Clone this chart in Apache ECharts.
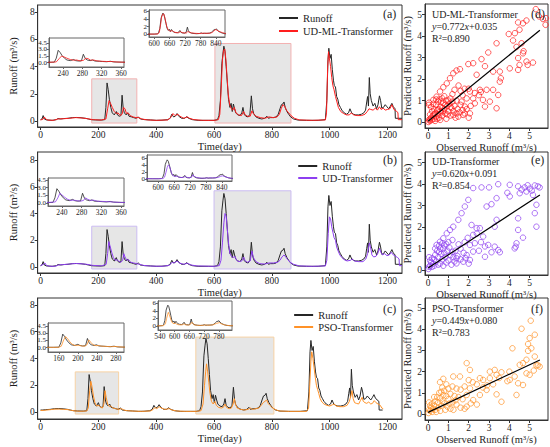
<!DOCTYPE html>
<html><head><meta charset="utf-8">
<script src="https://cdn.jsdelivr.net/npm/echarts@6/dist/echarts.min.js"></script>
<style>html,body{margin:0;padding:0;background:#fff}#c{width:550px;height:447px}</style>
</head><body><div id="c"></div>
<script>
// ---------- tick labels ----------
const dayTicks=[0,200,400,600,800,1000,1200];
const runoffTicks=[0,2,4,6,8];
const insetYTicksL=[0,1.5,3,4.5];
const insetYTicksR=[0,2,4,6];
const insetXTicksAL=[240,280,320,360];
const insetXTicksAR=[600,660,720,780,840];
const insetXTicksCL=[160,200,240,280];
const insetXTicksCR=[540,600,660,720,780];
const scatTicks=[0,1,2,3,4,5];

// ---------- series values (day, runoff) ----------
const obsAB=[[0,0.1],[5,0.15],[9,0.4],[13,0.15],[20,0.08],[40,0.05],[55,0.1],[60,0.18],[70,0.15],[80,0.18],[95,0.2],[110,0.25],[125,0.26],[140,0.24],[155,0.2],[165,0.15],[175,0.1],[190,0.08],[210,0.07],[222,0.1],[226,1.0],[230,2.8],[234,2.3],[238,1.6],[243,1.0],[248,0.6],[255,0.45],[262,0.7],[266,0.45],[272,0.35],[278,0.4],[282,1.9],[286,0.9],[290,0.6],[296,0.45],[301,0.6],[306,0.35],[315,0.3],[322,0.25],[330,0.2],[338,0.3],[345,0.15],[360,0.1],[380,0.08],[400,0.05],[420,0.06],[440,0.1],[448,0.2],[454,0.5],[460,0.3],[466,0.35],[472,0.55],[478,0.35],[488,0.2],[498,0.2],[505,0.32],[512,0.2],[525,0.1],[545,0.05],[580,0.05],[600,0.05],[612,0.1],[617,0.4],[622,1.5],[627,4.2],[631,5.0],[634,5.5],[638,5.1],[642,4.0],[646,2.8],[650,1.6],[655,1.0],[659,1.3],[663,0.7],[667,1.25],[671,0.9],[675,0.6],[682,0.45],[690,0.4],[696,0.6],[700,1.0],[704,0.5],[710,0.35],[718,0.3],[724,0.5],[729,1.85],[733,0.9],[737,0.55],[745,0.3],[755,0.2],[765,0.15],[775,0.2],[783,0.35],[788,0.2],[795,0.25],[805,0.25],[815,0.3],[822,0.5],[828,0.9],[833,1.2],[838,1.25],[842,1.4],[846,1.0],[852,0.7],[858,0.5],[865,0.3],[875,0.15],[890,0.07],[920,0.05],[960,0.05],[985,0.1],[990,1.5],[994,4.5],[997,5.35],[1001,4.6],[1005,4.9],[1009,3.8],[1013,3.0],[1016,2.6],[1020,2.5],[1024,1.8],[1028,1.6],[1032,1.2],[1037,1.0],[1042,0.8],[1050,0.6],[1058,0.5],[1065,0.6],[1070,0.9],[1076,0.6],[1082,0.5],[1090,0.45],[1100,0.45],[1110,0.5],[1118,0.6],[1124,0.8],[1128,1.4],[1131,1.8],[1134,1.1],[1137,3.2],[1140,2.0],[1144,1.5],[1150,1.1],[1156,1.3],[1162,0.9],[1167,1.2],[1172,1.85],[1176,1.5],[1180,0.95],[1186,1.0],[1192,1.2],[1198,1.05],[1204,0.9],[1210,1.1],[1215,1.3],[1220,1.05],[1226,0.9],[1227,0.2],[1250,0.2]];
const predUDML=[[0,0.08],[8,0.12],[13,0.3],[18,0.15],[25,0.07],[45,0.05],[60,0.15],[80,0.17],[100,0.2],[120,0.25],[140,0.23],[160,0.18],[180,0.1],[210,0.07],[226,0.15],[232,0.9],[237,1.5],[242,1.3],[248,1.0],[255,0.7],[262,0.55],[268,0.6],[275,0.4],[282,0.5],[287,1.0],[292,0.9],[297,0.55],[303,0.6],[310,0.4],[320,0.3],[330,0.25],[340,0.25],[350,0.15],[370,0.08],[400,0.05],[440,0.08],[450,0.25],[458,0.55],[465,0.4],[475,0.5],[482,0.35],[495,0.2],[508,0.3],[515,0.2],[530,0.1],[560,0.05],[600,0.05],[615,0.1],[620,0.5],[625,2.5],[629,4.5],[633,5.2],[637,5.3],[641,4.5],[645,3.2],[649,2.0],[654,1.2],[660,0.9],[665,0.8],[670,1.0],[676,0.6],[685,0.45],[695,0.4],[702,0.7],[708,0.45],[716,0.35],[725,0.35],[731,0.75],[737,0.5],[745,0.35],[760,0.25],[775,0.2],[790,0.3],[805,0.25],[818,0.3],[826,0.5],[832,0.9],[838,1.2],[844,1.1],[850,0.8],[858,0.6],[866,0.4],[878,0.2],[895,0.08],[940,0.05],[985,0.08],[989,0.6],[993,4.0],[996,5.1],[999,4.6],[1003,4.0],[1007,3.2],[1011,2.6],[1015,2.3],[1020,1.8],[1025,1.4],[1030,1.0],[1038,0.7],[1048,0.55],[1058,0.45],[1068,0.45],[1075,0.6],[1082,0.45],[1095,0.4],[1110,0.4],[1122,0.5],[1130,0.7],[1136,0.9],[1142,0.85],[1150,0.8],[1158,0.95],[1165,0.8],[1172,1.05],[1178,0.85],[1185,0.95],[1192,0.8],[1200,0.85],[1208,0.9],[1215,1.2],[1222,0.85],[1230,0.75],[1236,0.6],[1237,0.1],[1250,0.1]];
const predUD=[[0,0.1],[10,0.2],[15,0.3],[20,0.12],[30,0.06],[50,0.05],[62,0.15],[80,0.18],[100,0.22],[120,0.26],[140,0.24],[160,0.2],[180,0.12],[210,0.08],[227,0.2],[232,1.0],[236,1.9],[240,1.6],[246,1.1],[252,0.7],[258,0.5],[264,0.55],[270,0.45],[278,0.35],[284,0.5],[288,1.0],[292,0.75],[298,0.5],[304,0.55],[312,0.35],[322,0.3],[332,0.25],[342,0.2],[355,0.12],[380,0.07],[420,0.05],[445,0.12],[455,0.35],[462,0.3],[472,0.45],[480,0.3],[495,0.2],[508,0.28],[520,0.15],[540,0.08],[600,0.05],[618,0.1],[624,0.5],[629,1.8],[634,3.3],[638,4.0],[642,3.8],[646,2.8],[650,1.8],[655,1.0],[660,0.8],[666,0.7],[672,0.8],[678,0.5],[686,0.4],[696,0.45],[702,0.75],[708,0.45],[716,0.35],[725,0.45],[731,1.2],[736,0.7],[745,0.4],[758,0.25],[775,0.22],[790,0.3],[805,0.3],[820,0.35],[828,0.5],[835,0.75],[842,0.9],[848,0.75],[855,0.55],[863,0.35],[875,0.2],[895,0.08],[940,0.05],[985,0.08],[990,0.5],[995,2.5],[999,3.75],[1003,3.6],[1007,3.0],[1011,2.6],[1015,2.2],[1020,2.0],[1024,1.5],[1029,1.2],[1035,0.9],[1042,0.7],[1050,0.55],[1060,0.45],[1072,0.5],[1078,0.6],[1085,0.45],[1100,0.4],[1115,0.4],[1125,0.6],[1131,1.0],[1137,1.8],[1141,1.5],[1146,0.9],[1152,0.75],[1160,0.8],[1166,1.0],[1172,1.4],[1177,1.1],[1183,0.9],[1190,1.0],[1198,0.85],[1206,0.9],[1213,1.1],[1220,0.9],[1228,0.8],[1235,0.7],[1240,0.6],[1241,0.1],[1250,0.1]];
const obsC=[[0,0.15],[8,0.15],[18,0.18],[33,0.2],[48,0.25],[63,0.26],[78,0.24],[93,0.2],[103,0.15],[113,0.1],[128,0.08],[148,0.07],[160,0.1],[164,1.0],[168,2.8],[172,2.3],[176,1.6],[181,1.0],[186,0.6],[193,0.45],[200,0.7],[204,0.45],[210,0.35],[216,0.4],[220,1.9],[224,0.9],[228,0.6],[234,0.45],[239,0.6],[244,0.35],[253,0.3],[260,0.25],[268,0.2],[276,0.3],[283,0.15],[298,0.1],[318,0.08],[338,0.05],[358,0.06],[378,0.1],[386,0.2],[392,0.5],[398,0.3],[404,0.35],[410,0.55],[416,0.35],[426,0.2],[436,0.2],[443,0.32],[450,0.2],[463,0.1],[483,0.05],[518,0.05],[538,0.05],[550,0.1],[555,0.4],[560,1.5],[565,4.2],[569,5.0],[572,5.5],[576,5.1],[580,4.0],[584,2.8],[588,1.6],[593,1.0],[597,1.3],[601,0.7],[605,1.25],[609,0.9],[613,0.6],[620,0.45],[628,0.4],[634,0.6],[638,1.0],[642,0.5],[648,0.35],[656,0.3],[662,0.5],[667,1.85],[671,0.9],[675,0.55],[683,0.3],[693,0.2],[703,0.15],[713,0.2],[721,0.35],[726,0.2],[733,0.25],[743,0.25],[753,0.3],[760,0.5],[766,0.9],[771,1.2],[776,1.25],[780,1.4],[784,1.0],[790,0.7],[796,0.5],[803,0.3],[813,0.15],[828,0.07],[858,0.05],[898,0.05],[923,0.1],[928,1.5],[932,4.5],[935,5.35],[939,4.6],[943,4.9],[947,3.8],[951,3.0],[954,2.6],[958,2.5],[962,1.8],[966,1.6],[970,1.2],[975,1.0],[980,0.8],[988,0.6],[996,0.5],[1003,0.6],[1008,0.9],[1014,0.6],[1020,0.5],[1028,0.45],[1038,0.45],[1048,0.5],[1056,0.6],[1062,0.8],[1066,1.4],[1069,1.8],[1072,1.1],[1075,3.2],[1078,2.0],[1082,1.5],[1088,1.1],[1094,1.3],[1100,0.9],[1105,1.2],[1110,1.85],[1114,1.5],[1118,0.95],[1124,1.0],[1130,1.2],[1136,1.05],[1142,0.9],[1148,1.1],[1153,1.3],[1158,1.05],[1164,0.9],[1170,0.8],[1171,0.15],[1183,0.15]];
const predPSO=[[0,0.12],[10,0.12],[20,0.15],[35,0.18],[50,0.22],[65,0.22],[80,0.2],[95,0.18],[108,0.12],[120,0.08],[140,0.06],[160,0.08],[165,0.3],[170,1.6],[174,2.3],[178,1.9],[183,1.2],[188,0.7],[194,0.45],[202,0.5],[208,0.35],[214,0.3],[219,0.6],[223,1.6],[227,1.1],[232,0.6],[238,0.4],[243,0.45],[250,0.3],[260,0.25],[270,0.2],[280,0.25],[288,0.15],[300,0.1],[320,0.07],[350,0.05],[380,0.08],[390,0.2],[396,0.35],[402,0.25],[410,0.4],[418,0.3],[430,0.2],[445,0.25],[455,0.15],[470,0.08],[500,0.05],[540,0.05],[555,0.1],[562,0.6],[567,2.0],[571,3.0],[574,3.6],[578,3.0],[582,2.2],[586,1.4],[591,0.8],[597,0.6],[603,0.8],[608,0.5],[615,0.35],[625,0.3],[632,0.35],[638,0.6],[643,0.35],[652,0.25],[660,0.3],[666,0.6],[670,1.0],[674,0.6],[680,0.3],[692,0.2],[705,0.15],[718,0.2],[725,0.3],[732,0.2],[745,0.25],[755,0.3],[763,0.5],[770,0.7],[776,0.8],[782,0.9],[787,0.65],[793,0.5],[800,0.35],[810,0.2],[825,0.08],[860,0.05],[920,0.05],[927,0.3],[931,2.0],[935,3.8],[938,4.5],[942,4.0],[946,3.3],[950,2.6],[954,2.0],[958,1.7],[962,1.4],[967,1.0],[973,0.75],[980,0.6],[990,0.5],[1000,0.45],[1010,0.55],[1016,0.6],[1022,0.45],[1035,0.4],[1048,0.4],[1060,0.5],[1068,0.8],[1073,1.2],[1077,1.6],[1081,1.0],[1086,0.7],[1092,0.65],[1100,0.6],[1106,0.85],[1112,1.1],[1116,0.8],[1122,0.7],[1128,0.65],[1135,0.75],[1142,0.6],[1148,0.65],[1154,0.85],[1160,0.7],[1167,0.6],[1175,0.5],[1180,0.3],[1185,0.25]];

// ---------- highlighted windows [x0,y0,x1,y1] ----------
const windowsA=[[177,-0.15,333,3.1],[603,-0.15,866,5.7]];
const windowsB=[[177,-0.15,333,3.05],[600,-0.15,866,5.7]];
const windowsC=[[120,-0.15,270,3.0],[537,-0.15,807,5.6]];

// ---------- scatter (observed, predicted) ----------
const scatD=[[5.3,5.26],[5.46,4.92],[5.65,4.8],[5.8,4.84],[5.78,4.53],[4.84,4.73],[4.67,4.6],[4.43,4.64],[4.5,4.3],[3.97,4.1],[4.27,4.14],[4.18,3.8],[4.35,3.5],[4.6,3.67],[4.7,3.3],[3.37,3.67],[2.96,3.24],[2.63,2.93],[2.22,2.74],[1.98,2.7],[1.57,2.46],[1.4,2.4],[1.24,2.27],[1.08,2.04],[0.92,1.8],[0.75,1.62],[0.59,1.42],[0.42,1.18],[0.26,1.03],[4.43,2.98],[4.67,3.2],[4.84,2.82],[5.16,2.77],[4.9,2.66],[4.5,2.66],[4.02,2.5],[4.43,2.43],[3.53,2.35],[3.58,2.04],[3.53,1.88],[3.2,2.35],[2.8,2.6],[2.39,2.2],[2.88,1.5],[2.55,1.5],[3.2,1.5],[3.45,1.26],[2.7,1.03],[3.04,0.95],[2.8,0.72],[3.37,0.64],[2.3,0.87],[2.06,1.42],[1.9,1.1],[1.65,0.95],[2.22,1.1],[1.81,0.72],[2.06,0.4],[1.73,0.33],[1.49,0.25],[1.24,0.33],[1.8,1.55],[1.6,1.45],[1.5,1.7],[1.3,1.5],[1.2,1.3],[2.5,1.25],[2.3,1.35],[2.6,1.4],[2.0,1.55],[1.7,1.25],[1.1,1.1],[1.4,1.0],[0.05,0.1],[0.1,0.05],[0.15,0.2],[0.2,0.1],[0.25,0.3],[0.3,0.15],[0.35,0.4],[0.4,0.25],[0.45,0.55],[0.5,0.35],[0.55,0.2],[0.6,0.7],[0.65,0.45],[0.7,0.3],[0.75,0.9],[0.8,0.6],[0.85,0.4],[0.9,1.0],[0.95,0.75],[1.0,0.5],[1.05,0.85],[1.1,0.3],[1.15,0.65],[1.2,0.95],[1.25,0.5],[1.3,0.75],[1.35,0.2],[1.45,0.6],[1.55,0.45],[1.6,0.8],[1.7,0.55],[0.3,0.6],[0.4,0.8],[0.5,0.95],[0.55,1.05],[0.65,0.95],[0.2,0.5],[0.1,0.35],[0.05,0.8],[0.05,0.9],[0.15,0.7],[0.35,0.05],[0.6,0.1],[0.9,0.15],[0.5,0.6],[0.7,0.65],[0.85,0.8],[1.0,1.0],[0.25,0.85],[0.45,0.15],[0.75,0.5],[1.1,0.7],[0.95,0.35],[1.4,0.4],[1.8,0.4],[1.9,0.6],[2.1,0.75],[2.0,0.2],[0.4,1.05],[0.7,1.1],[0.8,1.2],[0.1,0.15],[0.02,0.0],[0.3,0.35],[0.6,0.5]];
const scatE=[[2.22,3.82],[2.63,3.85],[3.0,3.85],[3.45,4.0],[4.02,3.97],[4.43,3.9],[4.75,3.85],[5.0,3.79],[5.25,3.94],[5.49,3.85],[4.84,3.66],[4.51,3.58],[5.16,3.5],[4.02,3.43],[3.37,3.35],[3.12,3.07],[2.88,2.96],[1.98,3.27],[1.81,2.96],[1.65,2.65],[1.49,2.34],[1.24,2.02],[1.08,1.87],[0.92,1.71],[0.75,1.48],[0.59,1.32],[0.42,1.17],[5.33,3.04],[5.25,2.65],[5.33,2.02],[4.43,2.41],[4.43,1.87],[4.35,1.25],[4.31,1.09],[4.26,1.01],[4.67,1.51],[3.37,2.34],[3.28,2.02],[3.28,1.09],[3.45,0.93],[3.53,0.83],[3.12,0.83],[2.96,1.17],[2.8,0.62],[2.71,1.56],[2.55,1.95],[2.39,1.95],[2.14,2.1],[2.22,1.64],[2.06,1.17],[2.22,0.86],[1.9,0.7],[2.06,0.47],[1.73,0.39],[1.4,0.31],[4.9,3.95],[5.1,3.7],[4.6,3.75],[5.4,3.9],[3.9,3.6],[2.4,1.7],[2.6,1.3],[2.8,1.1],[2.5,0.9],[2.3,1.25],[1.95,1.5],[1.8,1.3],[1.6,1.0],[1.75,0.8],[1.5,1.2],[1.35,0.9],[1.2,1.4],[1.0,1.3],[0.9,1.2],[0.8,1.15],[0.7,1.25],[0.75,1.0],[0.6,1.0],[0.55,0.85],[0.95,0.9],[1.1,0.7],[1.25,0.6],[1.45,0.65],[1.6,0.5],[1.3,0.4],[1.15,0.25],[0.9,0.35],[0.85,0.6],[0.7,0.5],[0.65,0.75],[0.5,0.6],[0.4,0.4],[0.45,0.9],[0.35,0.7],[0.3,0.5],[0.25,0.3],[0.2,0.55],[0.15,0.35],[0.1,0.2],[0.05,0.6],[0.05,0.15],[0.1,0.45],[0.2,0.15],[0.3,0.2],[0.5,0.25],[0.6,0.3],[0.75,0.2],[1.0,0.45],[0.8,0.8],[1.05,1.05],[1.2,0.85],[1.4,0.55],[1.85,0.55],[2.0,0.3],[0.02,0.05],[0.35,1.0],[0.55,1.15]];
const scatF=[[5.05,4.4],[4.6,4.02],[5.25,3.74],[5.0,3.58],[4.92,3.3],[5.08,3.1],[4.92,2.98],[5.25,2.71],[5.33,2.29],[5.49,2.24],[4.84,2.56],[4.67,2.4],[4.51,2.32],[4.84,1.92],[5.0,1.85],[4.67,1.37],[4.35,0.9],[4.43,1.45],[4.26,1.77],[4.15,3.1],[4.02,1.61],[3.61,1.97],[3.37,1.85],[3.28,2.08],[3.04,2.0],[3.04,1.69],[2.71,1.61],[2.55,1.69],[2.88,1.14],[2.55,0.9],[3.37,0.93],[3.61,0.58],[1.9,2.4],[2.06,2.08],[1.57,1.77],[1.24,1.77],[0.75,1.66],[0.59,1.5],[2.06,1.21],[2.22,0.66],[1.9,0.35],[5.4,2.3],[5.2,2.05],[4.0,2.0],[3.9,1.55],[3.5,1.7],[3.2,1.4],[2.9,1.35],[2.7,1.25],[2.4,1.4],[2.2,1.5],[2.0,1.6],[1.8,1.3],[1.6,1.15],[1.4,1.2],[1.2,1.3],[1.0,1.2],[0.9,1.4],[0.8,1.1],[0.7,1.25],[1.1,0.95],[1.3,0.85],[1.5,0.8],[1.7,0.7],[1.9,0.9],[2.1,0.5],[2.4,0.45],[1.8,0.25],[1.6,0.3],[1.4,0.45],[1.2,0.55],[1.0,0.7],[0.9,0.85],[0.75,0.9],[0.6,0.75],[0.5,0.55],[0.45,0.8],[0.35,0.6],[0.3,0.4],[0.25,0.25],[0.2,0.5],[0.15,0.3],[0.1,0.15],[0.05,0.55],[0.05,0.2],[0.1,0.4],[0.2,0.1],[0.35,0.2],[0.5,0.3],[0.65,0.4],[0.8,0.5],[0.95,0.35],[1.1,0.25],[1.25,0.2],[0.4,0.1],[0.6,0.15],[0.85,0.2],[0.7,0.6],[0.55,1.0],[0.3,0.8],[0.02,0.05],[1.05,0.5],[1.35,0.65],[0.65,1.05]];

// ---------- fitted lines (endpoints) ----------
const fitD=[[0,0.035],[5.5,4.28]];
const fitE=[[0,0.091],[5.5,3.50]];
const fitF=[[0,0.080],[5.5,2.55]];

// ---------- annotation text ----------
const modelNames=['UD-ML-Transformer','UD-Transformer','PSO-Transformer'];
const slopes=['0.772','0.620','0.449'];
const intercepts=['0.035','0.091','0.080'];
const r2s=['0.890','0.854','0.783'];

// ================= layout / styles =================
const FONT='Liberation Serif';
const TXT='#1e1e1e', AX='#333', BLK='#262626';
const grids=[],xAxes=[],yAxes=[],series=[],legends=[],graphics=[];

function addGrid(rect,extra){grids.push(Object.assign({show:true,borderColor:AX,borderWidth:1,backgroundColor:'transparent'},rect,extra||{}));return grids.length-1;}
function axisBase(gi,min,max,ticks,fs,col,z,tl,fmt){
  return {type:'value',gridIndex:gi,min:min,max:max,z:z,
    axisLine:{show:true,onZero:false,lineStyle:{color:col,width:1}},
    axisTick:{show:true,length:tl,customValues:ticks,lineStyle:{color:col}},
    axisLabel:{customValues:ticks,fontFamily:FONT,fontSize:fs,color:TXT,margin:fs>8?3:2,
      hideOverlap:false,showMinLabel:true,showMaxLabel:true,formatter:fmt||(v=>String(v))},
    splitLine:{show:false}};
}

const panels=[
 {obs:obsAB,pred:predUDML,name:modelNames[0],color:'#ff1e1e',border:'#f3b2b2',win:windowsA,
  main:{left:24,top:5,width:378,height:122},yr:[-0.44,8.53],
  inL:{rect:{left:49,top:38,width:75,height:29},x:[211,366],xt:insetXTicksAL,y:[-1.0,5.6]},
  inR:{rect:{left:149,top:10,width:76,height:27},x:[580,875],xt:insetXTicksAR,y:[-0.7,6.3]},
  leg:{top:12,gap:1},lab:'(a)',labTop:8,
  sc:{rect:{left:425,top:4,width:123,height:124},y:[-0.28,5.5],data:scatD,fit:fitD,lab:'(d)',t:9}},
 {obs:obsAB,pred:predUD,name:modelNames[1],color:'#8d3ff0',border:'#cbbcf2',win:windowsB,
  main:{left:24,top:152,width:378,height:121},yr:[-0.45,8.6],
  inL:{rect:{left:48,top:178,width:76,height:28},x:[212,366],xt:insetXTicksAL,y:[-0.6,4.9]},
  inR:{rect:{left:147,top:155,width:85,height:26},x:[558,878],xt:insetXTicksAR,y:[-0.6,6.9]},
  leg:{top:160,gap:0},lab:'(b)',labTop:154,
  sc:{rect:{left:425,top:152,width:123,height:123},y:[-0.23,5.5],data:scatE,fit:fitE,lab:'(e)',t:156}},
 {obs:obsC,pred:predPSO,name:modelNames[2],color:'#ff9228',border:'#f7d2a4',win:windowsC,
  main:{left:24,top:298,width:378,height:121},yr:[-0.52,8.52],
  inL:{rect:{left:48,top:323,width:76,height:29},x:[137,297],xt:insetXTicksCL,y:[-0.9,5.1]},
  inR:{rect:{left:158,top:301,width:74,height:29},x:[532,833],xt:insetXTicksCR,y:[-1.05,6.6]},
  leg:{top:309,gap:0},lab:'(c)',labTop:303,
  sc:{rect:{left:425,top:298,width:123,height:122},y:[-0.28,5.47],data:scatF,fit:fitF,lab:'(f)',t:303}}
];

panels.forEach((p,i)=>{
  // main time series
  const g=addGrid(p.main);
  const xa=axisBase(g,-10,1250,dayTicks,9.5,AX,0,3);
  Object.assign(xa,{name:'Time(day)',nameLocation:'middle',nameGap:13,nameTextStyle:{fontFamily:FONT,fontSize:10.5,color:TXT}});
  const ya=axisBase(g,p.yr[0],p.yr[1],runoffTicks,9.5,AX,0,3);
  Object.assign(ya,{name:'Runoff (m³/s)',nameLocation:'middle',nameGap:9,nameTextStyle:{fontFamily:FONT,fontSize:10.5,color:TXT}});
  const mx=xAxes.push(xa)-1, my=yAxes.push(ya)-1;
  series.push({type:'line',xAxisIndex:mx,yAxisIndex:my,data:[],silent:true,z:1,
    markArea:{silent:true,itemStyle:{color:'#e6e6e6',borderColor:p.border,borderWidth:1},
      data:p.win.map(w=>[{coord:[w[0],w[1]]},{coord:[w[2],w[3]]}])}});
  series.push({type:'line',name:'Runoff',xAxisIndex:mx,yAxisIndex:my,data:p.obs,showSymbol:false,symbol:'none',z:3,
    lineStyle:{color:BLK,width:1},itemStyle:{color:BLK}});
  series.push({type:'line',name:p.name,xAxisIndex:mx,yAxisIndex:my,data:p.pred,showSymbol:false,symbol:'none',z:4,
    lineStyle:{color:p.color,width:1},itemStyle:{color:p.color}});
  legends.push({orient:'vertical',right:157,top:p.leg.top,padding:0,itemGap:p.leg.gap,itemWidth:19,itemHeight:2,icon:'rect',
    selectedMode:false,data:['Runoff',p.name],textStyle:{fontFamily:FONT,fontSize:10.5,color:TXT,lineHeight:12}});
  graphics.push({type:'text',left:383,top:p.labTop,z:20,style:{text:p.lab,fontFamily:FONT,fontSize:12,fill:TXT}});

  // insets (y labels split over two stacked axes so close labels are all kept)
  [p.inL,p.inR].forEach((ins,k)=>{
    const gi=addGrid(ins.rect,{z:10,backgroundColor:'#fff',borderColor:'#666'});
    const yt=k===0?insetYTicksL:insetYTicksR;
    const fmt=k===0?(v=>v.toFixed(1)):null;
    const ix=axisBase(gi,ins.x[0],ins.x[1],ins.xt,7.5,'#666',10,2);
    const iyA=axisBase(gi,ins.y[0],ins.y[1],yt.filter((_,j)=>j%2===0),7,'#666',10,2,fmt);
    const iyB=axisBase(gi,ins.y[0],ins.y[1],yt.filter((_,j)=>j%2===1),7,'#666',10,2,fmt);
    iyA.position='left';iyB.position='left';iyB.offset=0;
    const xi=xAxes.push(ix)-1;
    const yi=yAxes.push(iyA)-1;
    yAxes.push(iyB);
    series.push({type:'line',name:'inset-obs-'+i+k,xAxisIndex:xi,yAxisIndex:yi,data:p.obs,showSymbol:false,symbol:'none',z:12,
      lineStyle:{color:BLK,width:0.8}});
    series.push({type:'line',name:'inset-pred-'+i+k,xAxisIndex:xi,yAxisIndex:yi,data:p.pred,showSymbol:false,symbol:'none',z:13,
      lineStyle:{color:p.color,width:0.8}});
  });

  // scatter
  const s=p.sc;
  const sg=addGrid(s.rect);
  const sx=axisBase(sg,-0.15,5.9,scatTicks,9.5,AX,0,3);
  Object.assign(sx,{name:'Observed Runoff (m³/s)',nameLocation:'middle',nameGap:12,nameTextStyle:{fontFamily:FONT,fontSize:10.5,color:TXT}});
  const sy=axisBase(sg,s.y[0],s.y[1],scatTicks,9.5,AX,0,3);
  Object.assign(sy,{name:'Predicted Runoff (m³/s)',nameLocation:'middle',nameGap:9,nameTextStyle:{fontFamily:FONT,fontSize:10.5,color:TXT}});
  const sxi=xAxes.push(sx)-1, syi=yAxes.push(sy)-1;
  series.push({type:'scatter',name:'scatter-'+i,xAxisIndex:sxi,yAxisIndex:syi,data:s.data,symbol:'circle',symbolSize:5.5,z:3,
    itemStyle:{color:'rgba(0,0,0,0)',borderColor:p.color,borderWidth:0.9}});
  series.push({type:'line',name:'fit-'+i,xAxisIndex:sxi,yAxisIndex:syi,data:s.fit,showSymbol:false,symbol:'none',z:5,
    lineStyle:{color:'#000',width:1.2}});
  const tl=432;
  graphics.push({type:'text',left:tl,top:s.t,z:20,style:{text:p.name,fontFamily:FONT,fontSize:10,fill:TXT}});
  graphics.push({type:'text',left:tl,top:s.t+12,z:20,style:{text:'{i|y}='+slopes[i]+'{i|x}+'+intercepts[i],fontFamily:FONT,fontSize:10,fill:TXT,
    rich:{i:{fontStyle:'italic',fontFamily:FONT,fontSize:10,fill:TXT}}}});
  graphics.push({type:'text',left:tl,top:s.t+24,z:20,style:{text:'R²='+r2s[i],fontFamily:FONT,fontSize:10,fill:TXT}});
  graphics.push({type:'text',left:531,top:p.labTop,z:20,style:{text:s.lab,fontFamily:FONT,fontSize:12,fill:TXT}});
});

const chart=echarts.init(document.getElementById('c'),null,{renderer:'svg'});
chart.setOption({animation:false,backgroundColor:'#fff',textStyle:{fontFamily:FONT},
  grid:grids,xAxis:xAxes,yAxis:yAxes,series:series,legend:legends,graphic:graphics});
</script></body></html>
